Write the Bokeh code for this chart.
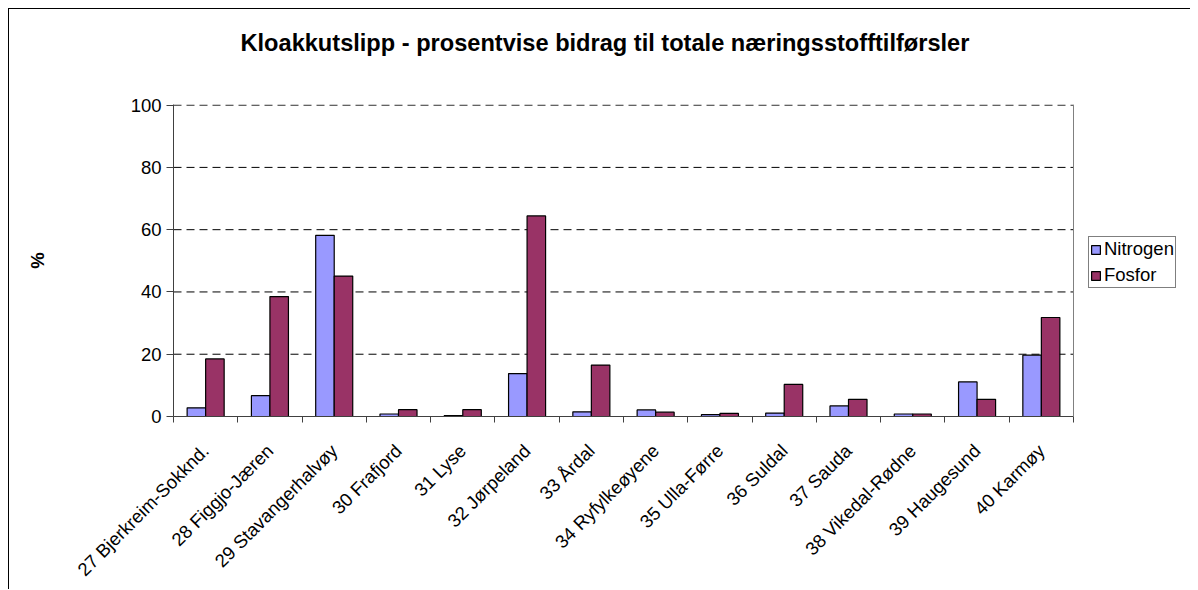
import numpy as np
from bokeh.plotting import figure
from bokeh.models import ColumnDataSource, Range1d, FixedTicker, LinearAxis, Legend, Title, Span
from bokeh.embed import file_html
from bokeh.resources import INLINE

categories = ["27 Bjerkreim-Sokknd.", "28 Figgjo-Jæren", "29 Stavangerhalvøy", "30 Frafjord",
              "31 Lyse", "32 Jørpeland", "33 Årdal", "34 Ryfylkeøyene", "35 Ulla-Førre",
              "36 Suldal", "37 Sauda", "38 Vikedal-Rødne", "39 Haugesund", "40 Karmøy"]
nitrogen = [2.8, 6.7, 58.2, 0.8, 0.3, 13.8, 1.5, 2.1, 0.6, 1.1, 3.4, 0.8, 11.1, 19.7]
fosfor = [18.5, 38.5, 45.1, 2.2, 2.2, 64.4, 16.5, 1.4, 1.0, 10.3, 5.5, 0.8, 5.5, 31.8]
y_ticks = [0, 20, 40, 60, 80, 100]
title_text = "Kloakkutslipp - prosentvise bidrag til totale næringsstofftilførsler"

FONT = "Liberation Sans"
n = len(categories)
idx = np.arange(n)
bw = 0.288
src = ColumnDataSource(dict(xn=idx - bw / 2, xf=idx + bw / 2, n=nitrogen, f=fosfor))

W, H = 1182, 581
BL, BR, BT, BB = 164, 10, 95, 173
frame_w = W - BL - BR
plot_w = 900.0  # pixels used by the categories
x_end = -0.5 + n * frame_w / plot_w

p = figure(width=W, height=H, output_backend="svg", toolbar_location=None,
           x_range=Range1d(-0.5, x_end), y_range=Range1d(0, 100.2),
           min_border_left=BL, min_border_right=BR, min_border_top=BT, min_border_bottom=BB)
p.margin = (8, 8, 0, 8)
p.styles = {"border-top": "1px solid black", "border-left": "1px solid black"}

# dashed gridlines limited to the category area
gy = y_ticks[1:]
p.segment(x0=[-0.5] * len(gy), x1=[n - 0.5] * len(gy), y0=gy, y1=gy,
          line_color="black", line_dash="8 5", line_width=1)

r1 = p.vbar(x="xn", top="n", width=bw, source=src, fill_color="#9999FF", line_color="black",
            line_width=1.2)
r2 = p.vbar(x="xf", top="f", width=bw, source=src, fill_color="#993366", line_color="black",
            line_width=1.2)

p.add_layout(Span(location=n - 0.5, dimension="height", line_color="#808080", line_width=1))

p.outline_line_color = None
p.xgrid.visible = False
p.ygrid.visible = False

ya = p.yaxis[0]
ya.ticker = FixedTicker(ticks=y_ticks)
ya.axis_line_color = "#404040"
ya.major_tick_line_color = "#404040"
ya.major_tick_out = 7
ya.major_tick_in = 0
ya.minor_tick_line_color = None
ya.major_label_text_font = FONT
ya.major_label_text_font_size = "18.5px"
ya.major_label_text_color = "black"
ya.major_label_standoff = 5
ya.axis_label = "%"
ya.axis_label_text_font = FONT
ya.axis_label_text_font_size = "18.5px"
ya.axis_label_text_font_style = "bold"
ya.axis_label_text_color = "black"
ya.axis_label_standoff = 80

xa = p.xaxis[0]
xa.ticker = FixedTicker(ticks=list(idx), minor_ticks=list(np.arange(-0.5, n, 1.0)))
xa.major_label_overrides = {int(i): c for i, c in zip(idx, categories)}
xa.bounds = (-0.5, n - 0.5)
xa.axis_line_color = "#404040"
xa.major_tick_out = 0
xa.major_tick_in = 0
xa.minor_tick_line_color = "#404040"
xa.minor_tick_out = 6
xa.minor_tick_in = 0
xa.major_label_orientation = np.pi / 4
xa.major_label_text_font = FONT
xa.major_label_text_font_size = "18.5px"
xa.major_label_text_color = "black"
xa.major_label_standoff = 25

# invisible spacer between frame and title
spacer = LinearAxis(ticker=FixedTicker(ticks=[]), axis_line_color=None,
                    major_tick_line_color=None, minor_tick_line_color=None,
                    major_tick_out=0, minor_tick_out=0, major_label_standoff=0,
                    axis_label=".", axis_label_text_alpha=0, axis_label_text_font_size="10px",
                    axis_label_standoff=33)
p.add_layout(spacer, "above")

title = Title(text=title_text, text_font=FONT, text_font_size="23.6px", text_font_style="bold",
              text_color="black", align="left", offset=67, standoff=10)
p.add_layout(title, "above")

lg = Legend(items=[("Nitrogen", [r1]), ("Fosfor", [r2])], location=(915, 128))
lg.border_line_color = "black"
lg.border_line_width = 1
lg.background_fill_color = "white"
lg.background_fill_alpha = 1
lg.label_text_font = FONT
lg.label_text_font_size = "18.5px"
lg.label_text_color = "black"
lg.glyph_width = 11
lg.glyph_height = 11
lg.label_standoff = 3
lg.label_height = 20
lg.padding = 1
lg.spacing = 4
lg.margin = 0
p.add_layout(lg, "center")

open("out.html", "w").write(file_html(p, INLINE))
